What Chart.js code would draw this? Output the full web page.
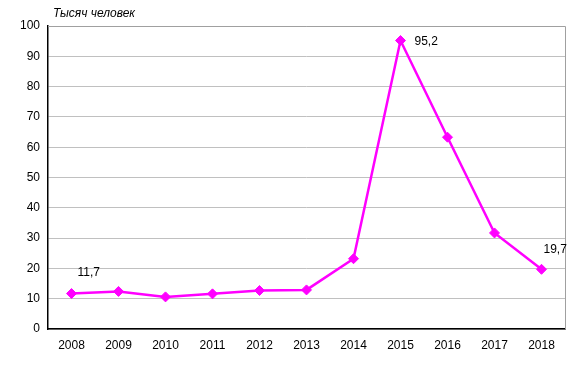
<!DOCTYPE html>
<html>
<head>
<meta charset="utf-8">
<script src="https://cdn.jsdelivr.net/npm/chart.js@4/dist/chart.umd.min.js"></script>
<style>
  html, body { margin: 0; padding: 0; background: #fff; }
  #wrap { width: 579px; height: 373px; }
</style>
</head>
<body>
<div id="wrap"><canvas id="myChart" width="579" height="373"></canvas></div>
<script>
var years = ["2008", "2009", "2010", "2011", "2012", "2013", "2014", "2015", "2016", "2017", "2018"];
var people = [11.7, 12.4, 10.6, 11.6, 12.7, 12.9, 23.2, 95.2, 63.3, 31.7, 19.7];
var labelled = { 0: "11,7", 7: "95,2", 10: "19,7" };
var yTitle = "Тысяч человек";

var fontName = "'Liberation Sans', Arial, sans-serif";

// grey frame on top/right, axis title, value labels
var extras = {
    id: 'extras',
    beforeDatasetsDraw: function (chart) {
        var ctx = chart.ctx, a = chart.chartArea;
        ctx.save();
        ctx.strokeStyle = "#a0a0a0";
        ctx.lineWidth = 1;
        ctx.beginPath();
        ctx.moveTo(a.left, a.top + 0.5);
        ctx.lineTo(a.right + 0.5, a.top + 0.5);
        ctx.lineTo(a.right + 0.5, a.bottom);
        ctx.stroke();
        ctx.restore();
    },
    afterDatasetsDraw: function (chart) {
        var ctx = chart.ctx, a = chart.chartArea;
        ctx.save();
        ctx.fillStyle = "#000";
        ctx.font = "italic 12px " + fontName;
        ctx.textBaseline = "middle";
        ctx.textAlign = "left";
        ctx.fillText(yTitle, a.left + 5, a.top - 12);
        ctx.font = "12px " + fontName;
        var meta = chart.getDatasetMeta(0);
        Object.keys(labelled).forEach(function (i) {
            var p = meta.data[i];
            var dx = 6, dy = -21;
            if (i == 7) { dx = 14; dy = 1; }
            if (i == 10) { dx = 2; dy = -20; }
            ctx.fillText(labelled[i], p.x + dx, p.y + dy);
        });
        ctx.restore();
    }
};

var ctx = document.getElementById('myChart').getContext('2d');
var myChart = new Chart(ctx, {
    type: 'line',
    data: {
        labels: years,
        datasets: [{
            data: people,
            borderColor: "#ff00ff",
            backgroundColor: "#ff00ff",
            borderWidth: 2.5,
            pointStyle: 'rectRot',
            pointRadius: 5,
            pointBorderWidth: 1,
            tension: 0
        }]
    },
    options: {
        responsive: false,
        animation: false,
        layout: { padding: { top: 26, right: 14, left: 0, bottom: 0 } },
        plugins: {
            legend: { display: false },
            tooltip: { enabled: false }
        },
        scales: {
            x: {
                offset: true,
                grid: { display: false, drawTicks: false },
                border: { color: "#000", width: 1.5 },
                ticks: { color: "#000", padding: 9, font: { family: fontName, size: 12 }, maxRotation: 0 },
                afterFit: function (s) { s.height = 44; }
            },
            y: {
                min: 0,
                max: 100,
                ticks: { stepSize: 10, color: "#000", padding: 8, font: { family: fontName, size: 12 } },
                grid: { color: "#c0c0c0", drawTicks: false },
                border: { color: "#000", width: 1.5 },
                afterFit: function (s) { s.width = 48; }
            }
        }
    },
    plugins: [extras]
});
</script>
</body>
</html>
